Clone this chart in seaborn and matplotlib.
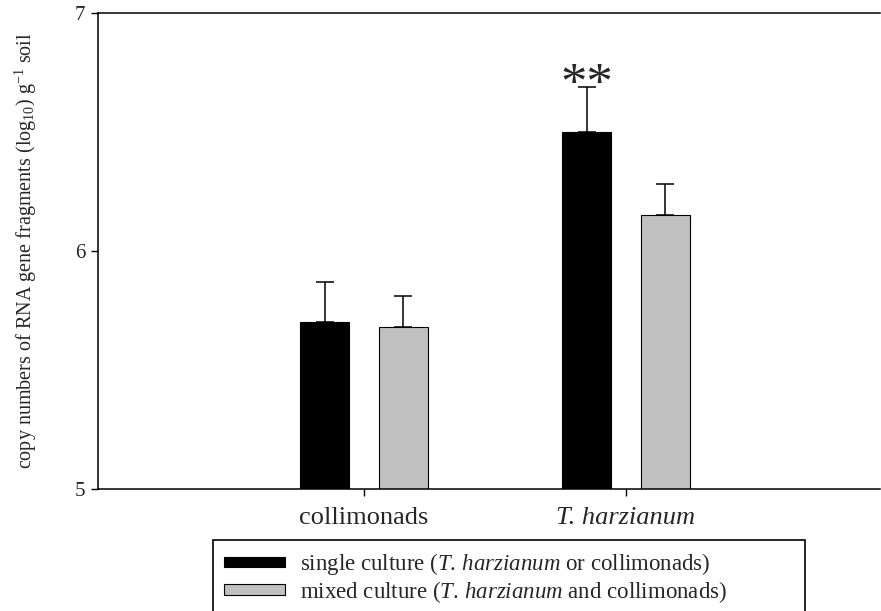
import matplotlib
matplotlib.use("Agg")
import matplotlib.pyplot as plt
import numpy as np
import pandas as pd
import seaborn as sns

# --- data -------------------------------------------------------------
organisms = ["collimonads", "T. harzianum"]
cultures = [
    r"single culture ($\mathit{T.}\,\mathit{harzianum}$ or collimonads)",
    r"mixed culture ($\mathit{T.}\,\mathit{harzianum}$ and collimonads)",
]
# mean copy numbers (log10 per g soil), per organism: [single, mixed]
mean_collimonads = [5.70, 5.68]
mean_harzianum = [6.50, 6.15]
# standard errors, same layout
se_collimonads = [0.17, 0.13]
se_harzianum = [0.19, 0.13]
yticks = [5, 6, 7]
significance = "**"   # single vs mixed for T. harzianum

rows = []
for org, means, ses in [(organisms[0], mean_collimonads, se_collimonads),
                        (organisms[1], mean_harzianum, se_harzianum)]:
    for cult, m, s in zip(cultures, means, ses):
        rows.append({"organism": org, "culture": cult, "copies": m, "se": s})
df = pd.DataFrame(rows)

# --- style ------------------------------------------------------------
sns.set_style("ticks")
plt.rcParams["font.family"] = ["Liberation Serif", "DejaVu Serif"]
plt.rcParams["mathtext.fontset"] = "custom"
plt.rcParams["mathtext.rm"] = "Liberation Serif"
plt.rcParams["mathtext.it"] = "Liberation Serif:italic"
plt.rcParams["mathtext.bf"] = "Liberation Serif:bold"

colors = ["#000000", "#c0c0c0"]

fig = plt.figure(figsize=(8.81, 6.11), dpi=100)
ax = fig.add_axes([98 / 881, 1 - 489 / 611, 782 / 881, 476 / 611])

sns.barplot(data=df, x="organism", y="copies", hue="culture",
            order=organisms, hue_order=cultures, palette=colors,
            width=0.6, gap=0.377, edgecolor="black", linewidth=0.8,
            errorbar=None, legend=False, ax=ax)

# upward-only standard error bars
for cult, cont in zip(cultures, ax.containers):
    sub = df[df["culture"] == cult].set_index("organism").loc[organisms]
    xs = [b.get_x() + b.get_width() / 2 for b in cont]
    ys = sub["copies"].to_numpy()
    errs = sub["se"].to_numpy()
    ax.errorbar(xs, ys, yerr=[np.zeros_like(errs), errs], fmt="none",
                ecolor="black", elinewidth=1.1, capsize=6.2, capthick=1.1,
                zorder=3)

# significance marker above T. harzianum single culture
bar = ax.containers[0][1]
row = df[(df["culture"] == cultures[0]) & (df["organism"] == organisms[1])].iloc[0]
ax.annotate(significance, xy=(bar.get_x() + bar.get_width() / 2, row["copies"] + row["se"]),
            xytext=(0, -9), textcoords="offset points", ha="center", va="baseline",
            fontsize=38)

# --- axes -------------------------------------------------------------
ax.set_ylim(5, 7)
ax.set_xlim(-1.015, 1.97)
ax.set_yticks(yticks)
ax.set_yticklabels([str(t) for t in yticks], fontsize=15)
ax.set_xticks(range(len(organisms)))
ax.set_xticklabels(organisms, fontsize=19)
ax.get_xticklabels()[1].set_fontstyle("italic")
ax.tick_params(axis="both", direction="out", length=5, width=1.0, color="black")
ax.tick_params(axis="y", pad=4)
ax.tick_params(axis="x", pad=8)
for side in ["left", "top", "bottom"]:
    ax.spines[side].set_visible(True)
    ax.spines[side].set_linewidth(1.1)
    ax.spines[side].set_color("black")
ax.spines["right"].set_visible(False)

ax.set_xlabel("")
ax.set_ylabel(r"copy numbers of RNA gene fragments (log$_{10}$) g$^{-1}$ soil", fontsize=14.5)
ax.yaxis.set_label_coords(-0.075, 0.5)

# --- legend below the axes -------------------------------------------
handles = [cont[0] for cont in ax.containers]
leg = fig.legend(handles, cultures, loc="upper left",
                 bbox_to_anchor=(213 / 881, -0.2, 592 / 881, 1 - 540 / 611 + 0.2),
                 mode="expand", borderaxespad=0, fontsize=16.5, frameon=True,
                 fancybox=False, handlelength=2.65, handleheight=0.33,
                 handletextpad=0.65, borderpad=0.5, labelspacing=0.05)
leg.get_frame().set_edgecolor("black")
leg.get_frame().set_linewidth(1.2)
leg.get_frame().set_alpha(1)

fig.savefig("out.png", dpi=100)
